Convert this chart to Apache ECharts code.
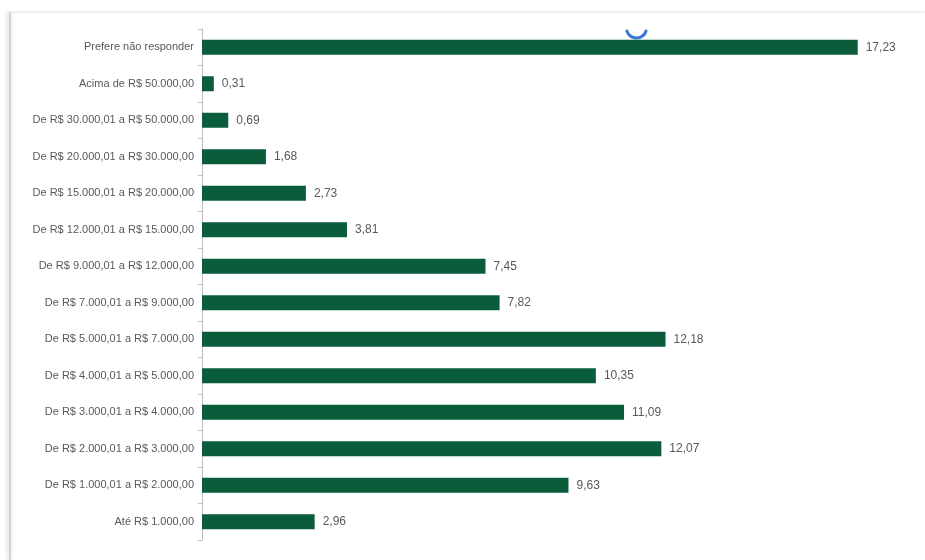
<!DOCTYPE html>
<html>
<head>
<meta charset="utf-8">
<script src="https://cdn.jsdelivr.net/npm/echarts@6/dist/echarts.min.js"></script>
<style>
  html, body { margin: 0; padding: 0; background: #ffffff; }
  #chart { width: 925px; height: 560px; }
</style>
</head>
<body>
<div id="chart"></div>
<script>
// Faixas de renda familiar (de baixo para cima no eixo)
const categories = [
  'Até R$ 1.000,00',
  'De R$ 1.000,01 a R$ 2.000,00',
  'De R$ 2.000,01 a R$ 3.000,00',
  'De R$ 3.000,01 a R$ 4.000,00',
  'De R$ 4.000,01 a R$ 5.000,00',
  'De R$ 5.000,01 a R$ 7.000,00',
  'De R$ 7.000,01 a R$ 9.000,00',
  'De R$ 9.000,01 a R$ 12.000,00',
  'De R$ 12.000,01 a R$ 15.000,00',
  'De R$ 15.000,01 a R$ 20.000,00',
  'De R$ 20.000,01 a R$ 30.000,00',
  'De R$ 30.000,01 a R$ 50.000,00',
  'Acima de R$ 50.000,00',
  'Prefere não responder'
];

// Percentual de respondentes em cada faixa
const percentages = [2.96, 9.63, 12.07, 11.09, 10.35, 12.18, 7.82, 7.45, 3.81, 2.73, 1.68, 0.69, 0.31, 17.23];

const chart = echarts.init(document.getElementById('chart'), null, { renderer: 'canvas' });

chart.setOption({
  backgroundColor: '#ffffff',
  animation: false,
  grid: { left: 202, right: 38, top: 29, bottom: 20, containLabel: false },
  xAxis: {
    type: 'value',
    min: 0,
    max: 18,
    show: false
  },
  yAxis: {
    type: 'category',
    data: categories,
    axisLine: { show: true, lineStyle: { color: '#bfbfbf', width: 1 } },
    axisTick: { show: true, length: 4, lineStyle: { color: '#bfbfbf' } },
    axisLabel: {
      color: '#595959',
      fontFamily: 'Liberation Sans, Arial, sans-serif',
      fontSize: 11,
      margin: 8
    },
    splitLine: { show: false }
  },
  series: [{
    type: 'bar',
    data: percentages,
    barWidth: 15,
    itemStyle: { color: '#0a5c3b' },
    label: {
      show: true,
      position: 'right',
      distance: 8,
      color: '#595959',
      fontFamily: 'Liberation Sans, Arial, sans-serif',
      fontSize: 12,
      formatter: p => p.value.toFixed(2).replace('.', ',')
    }
  }],
  graphic: [
    // moldura do painel
    {
      type: 'line',
      shape: { x1: 10, y1: 12, x2: 10, y2: 560 },
      style: { stroke: '#d4d4d4', lineWidth: 2, shadowBlur: 4, shadowColor: 'rgba(0,0,0,0.25)', shadowOffsetX: -1 },
      silent: true
    },
    {
      type: 'line',
      shape: { x1: 10, y1: 12, x2: 925, y2: 12 },
      style: { stroke: '#e8e8e8', lineWidth: 1, shadowBlur: 2, shadowColor: 'rgba(0,0,0,0.08)' },
      silent: true
    },
    // indicador de carregamento
    {
      type: 'arc',
      shape: { cx: 636.5, cy: 28, r: 10, startAngle: 0.3, endAngle: Math.PI - 0.3, clockwise: true },
      style: { stroke: '#3b78d4', lineWidth: 3, fill: null, lineCap: 'round' },
      z: 100,
      silent: true
    }
  ]
});
</script>
</body>
</html>
